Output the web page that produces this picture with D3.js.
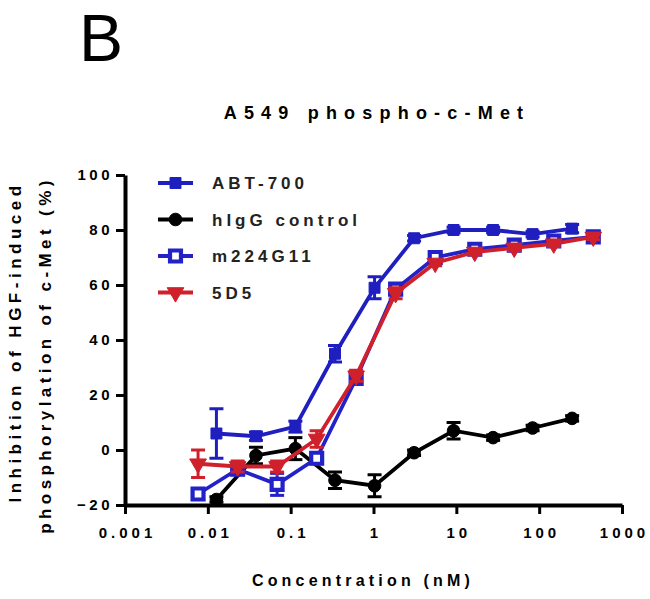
<!DOCTYPE html>
<html><head><meta charset="utf-8">
<script src="https://cdn.jsdelivr.net/npm/d3@7"></script>
<style>
body{margin:0;background:#fff;}
svg{display:block;font-family:"Liberation Sans",Arial,sans-serif;}
</style></head>
<body><svg id="c" width="650" height="599"></svg>
<script>
// ---- data ----
const concA = [0.0127, 0.0381, 0.114, 0.343, 1.03, 3.09, 9.26, 27.8, 83.3, 250];
const concB = [0.00762, 0.0229, 0.0686, 0.206, 0.617, 1.85, 5.56, 16.7, 50, 150, 450];
const abt700 = [6, 5, 8.5, 35, 59, 77, 80, 80, 78.5, 80.5];
const abt700Err = [9, 1.5, 2, 3, 4, 1, 1, 1, 1, 1.5];
const higg = [-18, -2, 0.5, -11, -13, -1, 7, 4.5, 8, 11.5];
const higgErr = [1, 3, 4, 3, 4, 1, 3, 1, 1, 1];
const m224 = [-16, -7, -12.5, -3, 26, 58.5, 70, 73, 74.5, 76, 77.5];
const m224Err = [2, 2, 4, 2, 2, 2, 1, 1, 1, 1, 1];
const d5 = [-5, -6, -6, 4, 27, 57, 68, 72, 73.5, 75, 77.5];
const d5Err = [5, 2, 2, 3, 2, 2, 1, 1, 1, 1, 1];
const seriesNames = ["ABT-700", "hIgG control", "m224G11", "5D5"];
const xTickVals = [0.001, 0.01, 0.1, 1, 10, 100, 1000];
const xTickLabels = ["0.001", "0.01", "0.1", "1", "10", "100", "1000"];
const yTickVals = [-20, 0, 20, 40, 60, 80, 100];

const series = [
  {name: seriesNames[0], x: concA, y: abt700, e: abt700Err, color: "#1f1fc0", sym: "square", open: false},
  {name: seriesNames[1], x: concA, y: higg, e: higgErr, color: "#000000", sym: "circle", open: false},
  {name: seriesNames[2], x: concB, y: m224, e: m224Err, color: "#2222c8", sym: "square", open: true},
  {name: seriesNames[3], x: concB, y: d5, e: d5Err, color: "#d0202c", sym: "tri", open: false}
];

const FONT = "'Liberation Sans',Arial,sans-serif";
const svg = d3.select("#c");
const x = d3.scaleLog().domain([0.001, 1000]).range([125, 622]);
const y = d3.scaleLinear().domain([-20, 100]).range([505, 175]);

// "B" label
svg.append("text").attr("x", 79).attr("y", 61).attr("font-size", 66)
  .attr("font-family", FONT).text("B");

// title
svg.append("text").attr("x", 377).attr("y", 119).attr("text-anchor", "middle")
  .attr("font-size", 18).attr("font-weight", "bold").attr("letter-spacing", 7.2)
  .text("A549 phospho-c-Met");

// axes
const minor = [];
for (let p = -3; p < 3; p++) for (let k = 2; k <= 9; k++) minor.push(k * Math.pow(10, p));
const gx = svg.append("g").attr("transform", `translate(0,${y(-20)})`);
gx.call(d3.axisBottom(x).tickValues(minor).tickFormat("").tickSize(5).tickSizeOuter(0));
gx.call(d3.axisBottom(x).tickValues(xTickVals).tickFormat((d, i) => xTickLabels[i]).tickSize(9).tickSizeOuter(0));
gx.selectAll("path.domain").attr("stroke-width", 4);
gx.selectAll(".tick line").attr("stroke-width", 3);
gx.selectAll("text").attr("font-size", 15).attr("font-weight", "bold")
  .attr("letter-spacing", 4).attr("dx", 2).attr("dy", "1.4em").attr("font-family", FONT);

const gy = svg.append("g").attr("transform", `translate(${x(0.001)},0)`);
gy.call(d3.axisLeft(y).tickValues([-10, 10, 30, 50, 70, 90]).tickFormat("").tickSize(5).tickSizeOuter(0));
gy.call(d3.axisLeft(y).tickValues(yTickVals).tickSize(9).tickSizeOuter(0));
gy.selectAll("path.domain").attr("stroke-width", 4);
gy.selectAll(".tick line").attr("stroke-width", 3);
gy.selectAll("text").attr("font-size", 15).attr("font-weight", "bold")
  .attr("letter-spacing", 3.5).attr("dx", 0).attr("font-family", FONT);

// axis titles
svg.append("text").attr("x", 363).attr("y", 586).attr("text-anchor", "middle")
  .attr("font-size", 16).attr("font-weight", "bold").attr("letter-spacing", 4.2)
  .text("Concentration (nM)");
svg.append("text").attr("transform", "translate(21,342) rotate(-90)").attr("text-anchor", "middle")
  .attr("font-size", 17).attr("font-weight", "bold").attr("letter-spacing", 4.5)
  .text("Inhibition of HGF-induced");
svg.append("text").attr("transform", "translate(51,355) rotate(-90)").attr("text-anchor", "middle")
  .attr("font-size", 17).attr("font-weight", "bold").attr("letter-spacing", 4.4)
  .text("phosphorylation of c-Met (%)");

function symPath(s) {
  if (s === "square") return d3.symbol().type(d3.symbolSquare).size(120)();
  if (s === "circle") return d3.symbol().type(d3.symbolCircle).size(125)();
  return d3.symbol().type(d3.symbolTriangle).size(120)();
}
function drawMarker(g, s, cx, cy) {
  const m = g.append("path").attr("d", symPath(s.sym))
    .attr("transform", `translate(${cx},${cy})` + (s.sym === "tri" ? " rotate(180)" : ""));
  if (s.open) m.attr("fill", "#fff").attr("stroke", s.color).attr("stroke-width", 4.2);
  else m.attr("fill", s.color).attr("stroke", s.color).attr("stroke-width", 1);
}

const line = d3.line().x(d => x(d[0])).y(d => y(d[1]));
series.forEach(s => {
  const g = svg.append("g");
  const pts = s.x.map((c, i) => [c, s.y[i], s.e[i]]);
  // error bars
  pts.forEach(p => {
    g.append("line").attr("x1", x(p[0])).attr("x2", x(p[0]))
      .attr("y1", y(p[1] - p[2])).attr("y2", y(p[1] + p[2]))
      .attr("stroke", s.color).attr("stroke-width", 3);
    [p[1] - p[2], p[1] + p[2]].forEach(v => g.append("line")
      .attr("x1", x(p[0]) - 7).attr("x2", x(p[0]) + 7).attr("y1", y(v)).attr("y2", y(v))
      .attr("stroke", s.color).attr("stroke-width", 3));
  });
  g.append("path").datum(pts).attr("d", line).attr("fill", "none")
    .attr("stroke", s.color).attr("stroke-width", 3.8);
  pts.forEach(p => drawMarker(g, s, x(p[0]), y(p[1])));
});

// legend
const legY = [183, 219.5, 256, 292.5];
series.forEach((s, i) => {
  const g = svg.append("g");
  g.append("line").attr("x1", 158).attr("x2", 193).attr("y1", legY[i]).attr("y2", legY[i])
    .attr("stroke", s.color).attr("stroke-width", 4);
  drawMarker(g, s, 175.5, legY[i]);
  g.append("text").attr("x", 212).attr("y", legY[i] + 6).attr("font-size", 17)
    .attr("font-weight", "bold").attr("letter-spacing", 4).attr("fill", "#222").text(s.name);
});
</script></body></html>
